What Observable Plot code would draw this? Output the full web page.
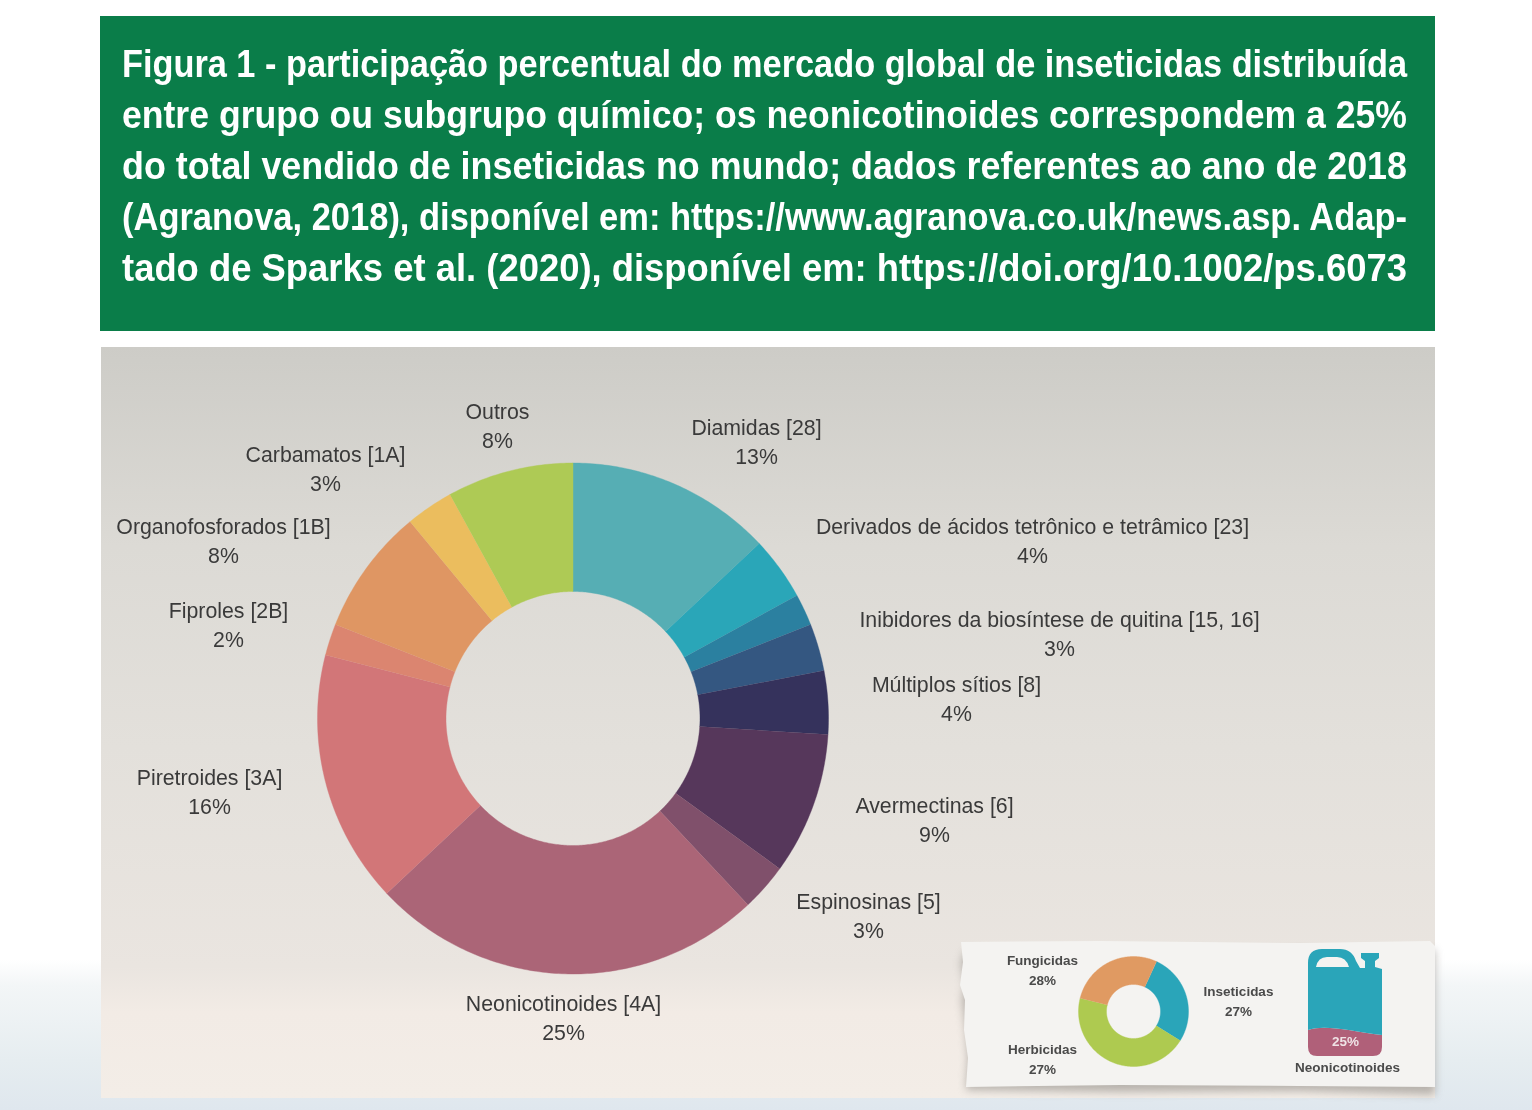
<!DOCTYPE html>
<html lang="pt">
<head>
<meta charset="utf-8">
<script src="https://cdn.jsdelivr.net/npm/d3@7"></script>
<script src="https://cdn.jsdelivr.net/npm/@observablehq/plot@0.6"></script>
<style>
html,body{margin:0;padding:0;background:#fff}
#page{position:relative;width:1532px;height:1110px;overflow:hidden;
  background:linear-gradient(to bottom,#fff 0,#fff 960px,#f3f6f7 985px,#e6edf0 1060px,#dfe7ee 1110px)}
#head{position:absolute;left:100px;top:16px;width:1335px;height:315px;background:#0a7d49}
#head div{position:absolute;left:22px;height:51px;line-height:51px;color:#fff;
  font-family:"Liberation Sans",sans-serif;font-weight:700;font-size:38px;
  white-space:nowrap;transform-origin:left center}
#panel{position:absolute;left:101px;top:347px;width:1334px;height:751px;
  background:linear-gradient(to bottom,#cdccc7 0,#dcdad5 200px,#e3e0db 400px,#eae5e0 620px,#f2ebe5 665px,#f3ede7 751px)}
#paper,#chart{position:absolute;left:0;top:0}
#chart svg text{filter:blur(.35px)}
</style>
</head>
<body>
<div id="page">
  <div id="head"></div>
  <div id="panel"></div>
  <svg id="paper" width="1532" height="1110" viewBox="0 0 1532 1110">
    <defs><filter id="sh" x="-5%" y="-5%" width="110%" height="125%"><feGaussianBlur stdDeviation="4"/></filter></defs>
    <path d="M966 950 L961 962 L965 985 L962 1000 L966 1030 L968 1058 L966 1090 L1120 1092 L1300 1091 L1435 1095 L1435 950 Z" fill="#8f8b86" opacity=".6" filter="url(#sh)"/>
    <path d="M961 942 L1100 941 L1300 943 L1430 941 L1435 946 L1435 1087 L1300 1086 L1120 1085 L966 1087 L968 1058 L964 1030 L965 1000 L960 985 L963 962 Z" fill="#f4f3f1"/>
    <path d="M1308 1030 C1325 1024 1350 1031 1382 1035 L1382 1047 Q1382 1056 1373 1056 L1317 1056 Q1308 1056 1308 1047 Z" fill="#b06079"/>
    <path fill-rule="evenodd" fill="#2aa5b9" d="M1308 1030 L1308 963 Q1308 949 1322 949 L1340 949 Q1352 949 1356 961 L1360 968 L1365 968 L1365 961 L1361 958 L1361 953 L1379 953 L1379 958 L1375 961 L1375 967 L1382 969 L1382 1035 C1350 1031 1325 1024 1308 1030 Z M1316 967 L1349 967 Q1346 957 1337 957 L1327 957 Q1318 957 1316 967 Z"/>
  </svg>
  <div id="chart"></div>
</div>
<script>
// Title lines
const titleLines = [
  "Figura 1 - participação percentual do mercado global de inseticidas distribuída",
  "entre grupo ou subgrupo químico; os neonicotinoides correspondem a 25%",
  "do total vendido de inseticidas no mundo; dados referentes ao ano de 2018",
  "(Agranova, 2018), disponível em: https://www.agranova.co.uk/news.asp. Adap-",
  "tado de Sparks et al. (2020), disponível em: https://doi.org/10.1002/ps.6073"
];

// Main donut, clockwise from the top
const groupNames = ["Diamidas [28]","Derivados de ácidos tetrônico e tetrâmico [23]","(sem rótulo)","Inibidores da biosíntese de quitina [15, 16]","Múltiplos sítios [8]","Avermectinas [6]","Espinosinas [5]","Neonicotinoides [4A]","Piretroides [3A]","Fiproles [2B]","Organofosforados [1B]","Carbamatos [1A]","Outros"];
const groupShares = [13,4,2,3,4,9,3,25,16,2,8,3,8];
const groupColors = ["#56aeb4","#2aa6b8","#2b80a0","#345781","#35325c","#56375b","#80506b","#ab6577","#d27678","#db8570","#df9663","#ebbd5e","#aeca55"];
const labelCentres = [[756,440],[1032,539],null,[1059,632],[956,697],[934,818],[868,914],[563,1016],[209,790],[228,623],[223,539],[325,467],[497,424]];

// Inset donut
const sectorNames = ["Inseticidas","Herbicidas","Fungicidas"];
const sectorShares = [27,45,28];
const sectorLabels = ["27%","27%","28%"];
const sectorColors = ["#2aa5b9","#aeca50","#e09a62"];
const sectorCentres = [[1238,999],[1042,1057],[1042,968]];
const jugCaption = ["Neonicotinoides","25%"];

const head = document.getElementById("head");
titleLines.forEach((t,i)=>{
  const d=document.createElement("div");
  d.textContent=t; d.style.top=(23+i*50.9)+"px"; head.appendChild(d);
  d.style.transform=`scaleX(${1285/d.getBoundingClientRect().width})`;
});

// Ring geometry: each slice's outline comes from its share
function ring(names,shares,cx,cy,r0,r1,startDeg){
  const total=d3.sum(shares); let acc=0; const out=[];
  names.forEach((name,i)=>{
    const a0=(startDeg+acc/total*360)*Math.PI/180;
    acc+=shares[i];
    const a1=(startDeg+acc/total*360)*Math.PI/180;
    const steps=Math.max(8,Math.ceil((a1-a0)*80));
    const at=(r,a)=>({name,x:cx+r*Math.sin(a),y:cy-r*Math.cos(a)});
    for(let k=0;k<=steps;k++) out.push(at(r1,a0+(a1-a0)*k/steps));
    for(let k=steps;k>=0;k--) out.push(at(r0,a0+(a1-a0)*k/steps));
  });
  return out;
}
const mainRing = ring(groupNames,groupShares,572.5,718,127,255.5,0);
const insetRing = ring(sectorNames,sectorShares,1133,1011,27,55,24.7);

const mainLabels = groupNames.map((n,i)=>({
  text:`${n}\n${groupShares[i]}%`, c:labelCentres[i]
})).filter(d=>d.c);
const insetLabels = sectorNames.map((n,i)=>({text:`${n}\n${sectorLabels[i]}`, c:sectorCentres[i]}));

const plot = Plot.plot({
  width:1532,height:1110,margin:0,
  style:{background:"transparent",overflow:"visible"},
  x:{domain:[0,1532],range:[0,1532],axis:null},
  y:{domain:[0,1110],range:[0,1110],axis:null},
  color:{domain:[...groupNames,...sectorNames.map(s=>"inset "+s)],range:[...groupColors,...sectorColors]},
  marks:[
    Plot.line(mainRing,{x:"x",y:"y",z:"name",fill:"name",stroke:"name",strokeWidth:.4,curve:"linear"}),
    Plot.line(insetRing,{x:"x",y:"y",z:"name",fill:d=>"inset "+d.name,stroke:d=>"inset "+d.name,strokeWidth:.4,curve:"linear"}),
    Plot.text(mainLabels,{x:d=>d.c[0],y:d=>d.c[1],text:"text",fontFamily:"Liberation Sans",fontSize:21.3,lineHeight:1.36,fill:"#3a3a3a"}),
    Plot.text(insetLabels,{x:d=>d.c[0],y:d=>d.c[1],text:"text",fontFamily:"Liberation Sans",fontSize:13.5,fontWeight:700,lineHeight:1.48,fill:"#4a4a4a"}),
    Plot.text([jugCaption[0]],{x:()=>1347,y:()=>1067,text:d=>d,fontFamily:"Liberation Sans",fontSize:13.5,fontWeight:700,fill:"#4a4a4a"}),
    Plot.text([jugCaption[1]],{x:()=>1345,y:()=>1041,text:d=>d,fontFamily:"Liberation Sans",fontSize:13.5,fontWeight:700,fill:"#efe3e6"})
  ]
});
document.getElementById("chart").appendChild(plot);
</script>
</body>
</html>
